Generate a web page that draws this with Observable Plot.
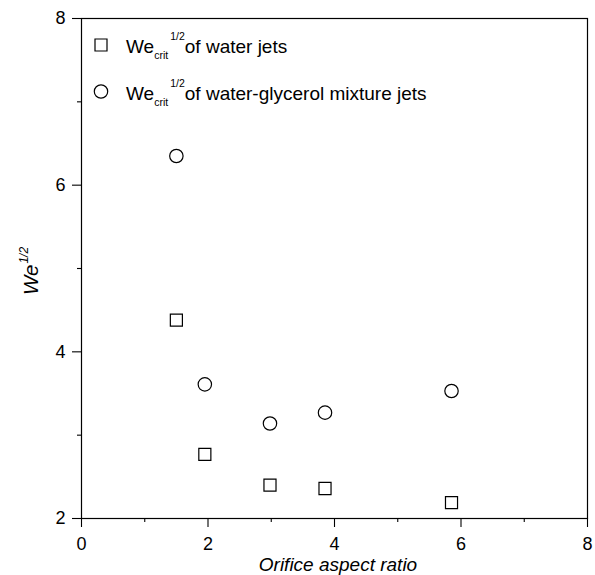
<!DOCTYPE html>
<html><head><meta charset="utf-8">
<script src="https://cdn.jsdelivr.net/npm/d3@7"></script>
<script src="https://cdn.jsdelivr.net/npm/@observablehq/plot@0.6"></script>
<style>body{margin:0;background:#fff} #chart{width:595px;height:575px}</style>
</head><body><div id="chart"></div>
<script>
const aspectRatio = [1.5, 1.95, 2.98, 3.85, 5.85];
const weWater = [4.38, 2.77, 2.40, 2.36, 2.19];
const weGlycerol = [6.35, 3.61, 3.14, 3.27, 3.53];
const xTicks = [0, 2, 4, 6, 8];
const yTicks = [2, 4, 6, 8];
const xMinor = [1, 3, 5, 7];
const yMinor = [3, 5, 7];
const seriesLabels = ["of water jets", "of water-glycerol mixture jets"];
const seriesSymbols = ["square", "circle"];

const water = aspectRatio.map((a, i) => ({x: a, y: weWater[i]}));
const glycerol = aspectRatio.map((a, i) => ({x: a, y: weGlycerol[i]}));

const font = "'Liberation Sans', Arial, sans-serif";
const ml = 81, mr = 8, mt = 18, mb = 57;

const svg = Plot.plot({
  width: 595, height: 575,
  marginLeft: ml, marginRight: mr, marginTop: mt, marginBottom: mb,
  style: {fontFamily: font, fontSize: "18px", color: "black", background: "white"},
  x: {domain: [0, 8]},
  y: {domain: [2, 8]},
  marks: [
    Plot.frame({stroke: "black", strokeWidth: 1.2}),
    Plot.axisX({ticks: xTicks, tickSize: 9, tickPadding: 10, tickFormat: d3.format("d"), label: null, fontSize: 18, strokeWidth: 1.1, fill: "black"}),
    Plot.axisX({ticks: xMinor, tickSize: 4, tickFormat: () => "", label: null, strokeWidth: 1.1}),
    Plot.axisY({ticks: yTicks, tickSize: 9, tickPadding: 7, tickFormat: d3.format("d"), label: null, fontSize: 18, strokeWidth: 1.1, fill: "black"}),
    Plot.axisY({ticks: yMinor, tickSize: 4, tickFormat: () => "", label: null, strokeWidth: 1.1}),
    Plot.dot(water, {x: "x", y: "y", symbol: seriesSymbols[0], r: 6.8, stroke: "black", fill: "white", strokeWidth: 1.2}),
    Plot.dot(glycerol, {x: "x", y: "y", symbol: seriesSymbols[1], r: 6.7, stroke: "black", fill: "white", strokeWidth: 1.2})
  ]
});
document.getElementById("chart").appendChild(svg);

const s = d3.select(svg);
// X axis label
s.append("text").attr("x", 338).attr("y", 571)
  .attr("text-anchor", "middle").attr("font-family", font).attr("font-size", 19)
  .attr("font-style", "italic").attr("fill", "black").text("Orifice aspect ratio");
// Y axis label
const yl = s.append("text").attr("transform", "translate(38,295) rotate(-90)")
  .attr("text-anchor", "start").attr("font-family", font).attr("font-size", 20.5)
  .attr("font-style", "italic").attr("fill", "black");
yl.append("tspan").text("We");
yl.append("tspan").attr("font-size", 12).attr("dy", -10).attr("dx", 1).text("1/2");

// Legend
const leg = s.append("g").attr("text-anchor", "start");
seriesLabels.forEach((lab, i) => {
  const cy = 45 + i * 46.5;
  const sym = d3.symbol(seriesSymbols[i] === "square" ? d3.symbolSquare : d3.symbolCircle, (i === 0 ? 144 : Math.PI * 6.7 * 6.7));
  leg.append("path").attr("d", sym()).attr("transform", `translate(101,${cy})`)
    .attr("fill", "white").attr("stroke", "black").attr("stroke-width", 1.2);
  const t = leg.append("text").attr("x", 126).attr("y", cy + 8.3).attr("text-anchor", "start")
    .attr("font-family", font).attr("font-size", 19).attr("fill", "black");
  t.append("tspan").text("We");
  t.append("tspan").attr("font-size", 10.5).attr("dy", 6).text("crit");
  t.append("tspan").attr("font-size", 10.5).attr("dy", -19).attr("dx", 2).text("1/2");
  t.append("tspan").attr("dy", 13).text(lab);
});
</script></body></html>
